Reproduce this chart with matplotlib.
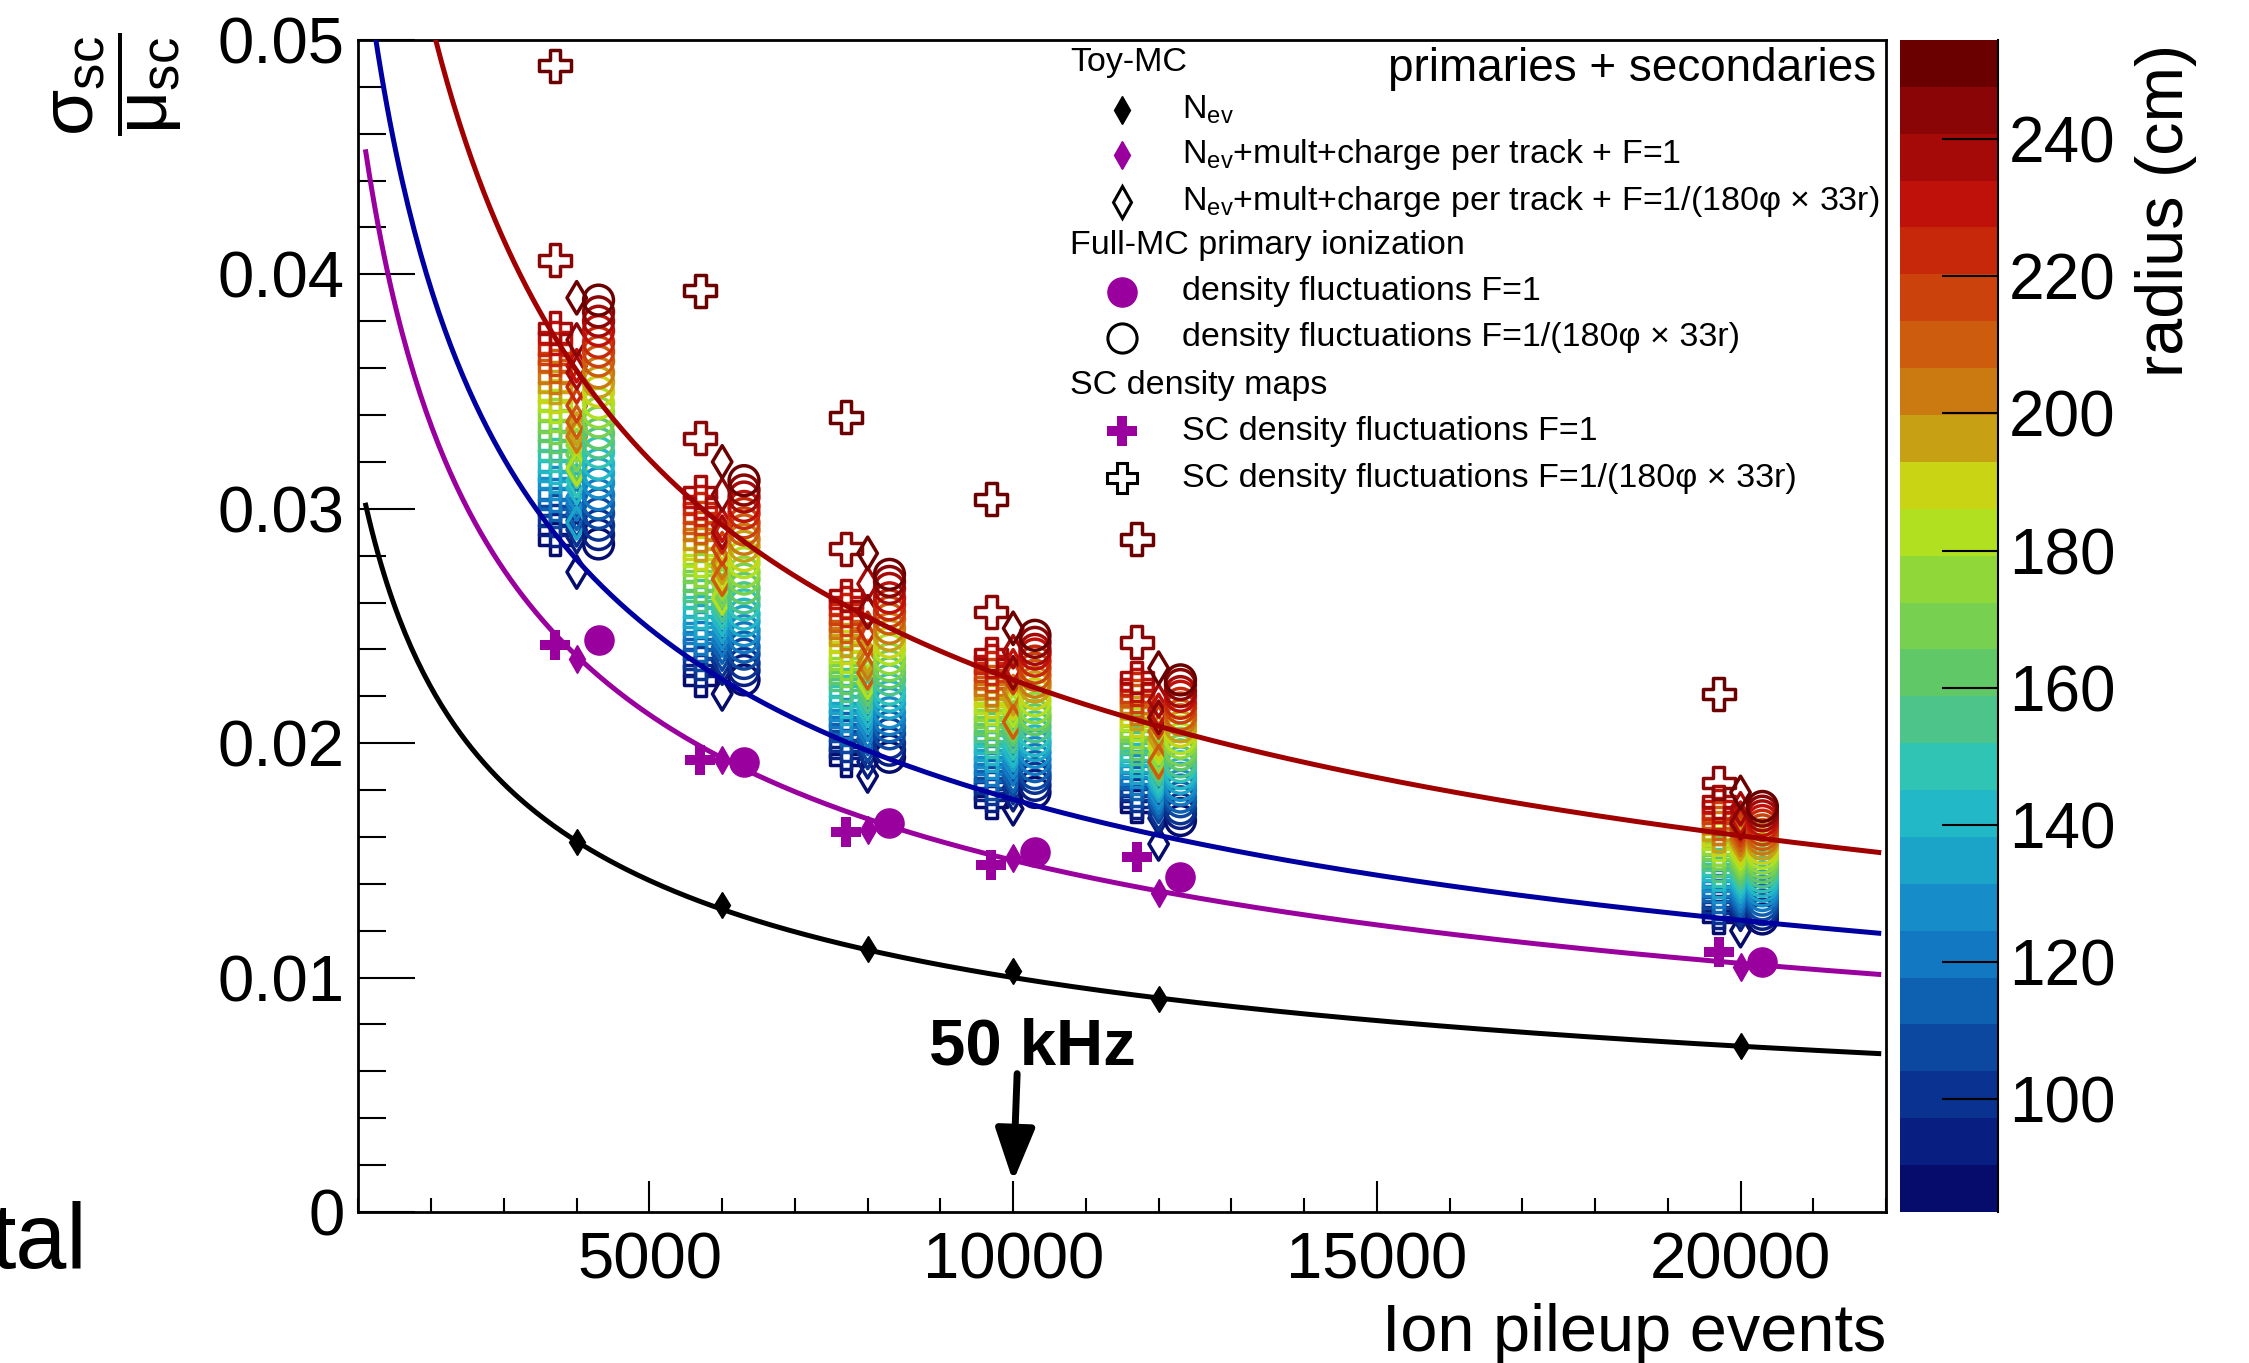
import numpy as np
import matplotlib
matplotlib.use('Agg')
import matplotlib.pyplot as plt
from matplotlib.colors import ListedColormap, Normalize
from matplotlib.cm import ScalarMappable
from matplotlib.ticker import MultipleLocator, FuncFormatter

plt.rcParams['font.family'] = ['Liberation Sans', 'DejaVu Sans']
plt.rcParams['mathtext.fontset'] = 'custom'
plt.rcParams['mathtext.rm'] = 'Liberation Sans'
plt.rcParams['mathtext.it'] = 'Liberation Sans:italic'
plt.rcParams['mathtext.bf'] = 'Liberation Sans:bold'

# ion pileup events of every group of points
n_events = [4000, 6000, 8000, 10000, 12000, 20000]
x_shift = 300  # SC maps drawn left, full-MC drawn right of the toy-MC column

# toy-MC, N_ev only
toy_nev = [0.0158, 0.0131, 0.0112, 0.0103, 0.0091, 0.0071]
# F=1 results (filled magenta)
toy_f1 = [0.0236, 0.0193, 0.0163, 0.0151, 0.0136, 0.01045]
fullmc_f1 = [0.0244, 0.0192, 0.0166, 0.01536, 0.0143, 0.01065]
scmap_f1 = [0.0242, 0.0193, 0.0162, 0.0148, 0.01515, 0.0111]

# fit normalisation p0 of p0/sqrt(N)
fit_nev = 1.0
fit_f1 = 1.5
fit_rphi_lo = 1.76
fit_rphi_hi = 2.27
fit_range = (1100, 21900)

# radial bins (cm) of the F=1/(180phi x 33r) results, inner -> outer
r_min, r_max, n_rbins = 83.5, 254.5, 25

# sigma/mu in units of 1e-4, one row per n_events entry, inner -> outer radius
scmap_rphi = [
    [287, 291, 295, 299, 302, 306, 311, 314, 318, 323, 327, 331, 335, 340, 344, 348, 352, 356, 361, 364, 368, 373, 377, 406, 489],
    [227, 231, 234, 238, 242, 245, 249, 252, 256, 260, 263, 267, 271, 274, 278, 281, 285, 289, 292, 296, 300, 303, 307, 330, 393],
    [193, 196, 199, 203, 206, 209, 212, 215, 218, 222, 225, 228, 231, 234, 237, 241, 244, 247, 250, 253, 257, 260, 263, 283, 339],
    [175, 178, 181, 183, 186, 189, 192, 195, 198, 201, 203, 206, 209, 212, 215, 218, 221, 223, 226, 229, 232, 235, 238, 256, 304],
    [173, 175, 178, 180, 183, 185, 188, 190, 193, 195, 198, 200, 203, 205, 208, 210, 213, 215, 218, 220, 223, 225, 228, 243, 287],
    [126, 128, 130, 132, 135, 137, 139, 141, 144, 146, 148, 150, 153, 155, 157, 159, 161, 164, 166, 168, 170, 173, 175, 183, 221],
]
toy_rphi = [
    [273, 288, 291, 295, 298, 302, 305, 294, 309, 312, 316, 319, 323, 327, 317, 330, 334, 331, 337, 344, 352, 361, 358, 372, 390],
    [221, 232, 235, 238, 241, 244, 247, 250, 253, 256, 259, 262, 265, 268, 262, 272, 275, 277, 270, 283, 288, 293, 290, 306, 320],
    [186, 192, 196, 199, 202, 205, 208, 211, 214, 217, 220, 223, 226, 229, 226, 234, 237, 234, 230, 244, 249, 256, 268, 256, 281],
    [172, 178, 181, 184, 186, 189, 192, 195, 197, 200, 203, 206, 208, 211, 214, 217, 219, 222, 209, 228, 230, 233, 239, 230, 249],
    [157, 168, 170, 173, 175, 177, 179, 182, 184, 186, 189, 191, 193, 195, 198, 200, 202, 205, 192, 209, 211, 214, 218, 211, 232],
    [120, 127, 129, 131, 133, 135, 137, 139, 141, 143, 145, 147, 149, 151, 153, 155, 157, 159, 161, 163, 165, 168, 172, 166, 179],
]
fullmc_rphi = [
    [285, 289, 293, 298, 302, 306, 311, 315, 319, 324, 328, 332, 337, 341, 345, 350, 354, 358, 363, 367, 371, 376, 380, 384, 389],
    [227, 231, 234, 238, 241, 245, 248, 252, 255, 259, 262, 266, 270, 273, 277, 280, 284, 287, 291, 294, 298, 301, 305, 308, 312],
    [194, 197, 200, 204, 207, 210, 213, 217, 220, 223, 227, 230, 233, 236, 240, 243, 246, 249, 253, 256, 259, 262, 266, 269, 272],
    [179, 182, 185, 187, 190, 193, 196, 199, 201, 204, 207, 210, 212, 215, 218, 221, 224, 226, 229, 232, 235, 238, 240, 243, 246],
    [167, 170, 172, 175, 177, 180, 182, 185, 187, 190, 192, 195, 197, 200, 202, 205, 207, 210, 212, 215, 217, 220, 222, 225, 227],
    [125, 127, 129, 131, 133, 135, 137, 139, 141, 143, 145, 147, 149, 151, 153, 155, 157, 159, 161, 163, 165, 167, 169, 171, 173],
]

palette = ['#060c6c', '#081e80', '#0a3290', '#0c48a0', '#0e60b0', '#1278c2', '#168cc8', '#1ca4c8',
           '#22b8c8', '#30c4b4', '#4cc48a', '#60c866', '#78d050', '#90d83a', '#b0e020', '#c8d414',
           '#c8a014', '#ca7a10', '#ce5c0e', '#cc420c', '#c8280a', '#c0100a', '#a50a08', '#8a0505',
           '#6b0000']

c_red, c_blue, c_mag = '#a00000', '#0000a0', '#9a009e'

cmap = ListedColormap(palette)
norm = Normalize(r_min, r_max)
edges = np.linspace(r_min, r_max, n_rbins + 1)
r_centres = 0.5 * (edges[:-1] + edges[1:])
bin_colors = cmap(norm(r_centres))

fig = plt.figure(figsize=(22.49, 13.63), dpi=100)
ax = fig.add_axes([0.1594, 0.1108, 0.6792, 0.8599])
cax = fig.add_axes([0.8448, 0.1108, 0.0436, 0.8599])

# radial-bin columns, open markers
for i, n in enumerate(n_events):
    ax.scatter(np.full(n_rbins, n - x_shift), np.array(scmap_rphi[i]) * 1e-4, s=23 ** 2, marker='P',
               facecolors='none', edgecolors=bin_colors, linewidths=2.5, zorder=2)
for i, n in enumerate(n_events):
    ax.scatter(np.full(n_rbins, n), np.array(toy_rphi[i]) * 1e-4, s=16.5 ** 2, marker='d',
               facecolors='none', edgecolors=bin_colors, linewidths=2.5, zorder=2)
for i, n in enumerate(n_events):
    ax.scatter(np.full(n_rbins, n + x_shift), np.array(fullmc_rphi[i]) * 1e-4, s=21.5 ** 2, marker='o',
               facecolors='none', edgecolors=bin_colors, linewidths=2.5, zorder=2)

# fit curves
xf = np.linspace(fit_range[0], fit_range[1], 500)
for p0, col in [(fit_rphi_hi, c_red), (fit_rphi_lo, c_blue), (fit_f1, c_mag), (fit_nev, 'k')]:
    ax.plot(xf, p0 / np.sqrt(xf), color=col, lw=3.6, zorder=3)

ne = np.array(n_events)
ax.plot(ne, toy_nev, ls='none', marker='d', ms=13, color='k', zorder=4)
ax.plot(ne, toy_f1, ls='none', marker='d', ms=14, color=c_mag, zorder=4)
ax.plot(ne + x_shift, fullmc_f1, ls='none', marker='o', ms=21, color=c_mag, zorder=4)
ax.plot(ne - x_shift, scmap_f1, ls='none', marker='P', ms=21.5, color=c_mag, mew=0, zorder=4)

ax.set_xlim(1000, 22000)
ax.set_ylim(0, 0.05)
ax.xaxis.set_major_locator(MultipleLocator(5000))
ax.xaxis.set_minor_locator(MultipleLocator(1000))
ax.yaxis.set_major_locator(MultipleLocator(0.01))
ax.yaxis.set_minor_locator(MultipleLocator(0.002))
ax.yaxis.set_major_formatter(FuncFormatter(lambda v, p: '0' if abs(v) < 1e-9 else f'{v:.2f}'))
ax.tick_params(which='both', direction='in', top=False, right=False, labelsize=47, width=1.5)
ax.tick_params(axis='y', which='major', length=41, pad=10)
ax.tick_params(axis='y', which='minor', length=20)
ax.tick_params(axis='x', which='major', length=22, pad=14)
ax.tick_params(axis='x', which='minor', length=10)
for sp in ax.spines.values():
    sp.set_linewidth(2)

# 50 kHz marker
ax.text(10270, 0.0063, '50 kHz', fontsize=47, fontweight='bold', ha='center', va='baseline')
ax.annotate('', xy=(10000, 0.0013), xytext=(10055, 0.0059),
            arrowprops=dict(arrowstyle='-|>,head_length=1.6,head_width=0.6', lw=5, color='k',
                            mutation_scale=20, shrinkA=0, shrinkB=0))

ax.text(0.9935, 0.975, 'primaries + secondaries', transform=ax.transAxes, fontsize=33,
        ha='right', va='center')

# legend drawn by hand, ROOT style with group headers
x_head, x_mark, x_text = 0.4658, 0.4998, 0.539
rows = [0.981, 0.940, 0.902, 0.862, 0.825, 0.785, 0.746, 0.705, 0.666, 0.626]
leg_fs = 24.5


def leg_marker(y, **kw):
    ax.plot([x_mark], [y], transform=ax.transAxes, clip_on=False, ls='none', zorder=5, **kw)


def leg_text(x, y, s):
    ax.text(x, y, s, transform=ax.transAxes, fontsize=leg_fs, ha='left', va='center')


leg_text(x_head, rows[0], 'Toy-MC')
leg_marker(rows[1], marker='d', ms=14, color='k')
leg_text(x_text, rows[1], r'N$_{\mathrm{ev}}$')
leg_marker(rows[2], marker='d', ms=14, color=c_mag)
leg_text(x_text, rows[2], r'N$_{\mathrm{ev}}$+mult+charge per track + F=1')
leg_marker(rows[3], marker='d', ms=16, mfc='none', mec='k', mew=2.2)
leg_text(x_text, rows[3], r'N$_{\mathrm{ev}}$+mult+charge per track + F=1/(180φ × 33r)')
leg_text(x_head, rows[4], 'Full-MC primary ionization')
leg_marker(rows[5], marker='o', ms=21, color=c_mag)
leg_text(x_text, rows[5], 'density fluctuations F=1')
leg_marker(rows[6], marker='o', ms=21, mfc='none', mec='k', mew=2.2)
leg_text(x_text, rows[6], 'density fluctuations F=1/(180φ × 33r)')
leg_text(x_head, rows[7], 'SC density maps')
leg_marker(rows[8], marker='P', ms=21.5, color=c_mag, mew=0)
leg_text(x_text, rows[8], 'SC density fluctuations F=1')
leg_marker(rows[9], marker='P', ms=21.5, mfc='none', mec='k', mew=2.2)
leg_text(x_text, rows[9], 'SC density fluctuations F=1/(180φ × 33r)')

# palette axis
sm = ScalarMappable(norm=norm, cmap=cmap)
cb = fig.colorbar(sm, cax=cax, ticks=[100, 120, 140, 160, 180, 200, 220, 240])
cb.outline.set_visible(False)
cax.tick_params(direction='in', length=40, width=1.5, labelsize=46, pad=8)
cax.plot([1, 1], [0, 1], transform=cax.transAxes, color='k', lw=1.5, clip_on=False)
fig.text(0.963, 0.968, 'radius (cm)', rotation=90, fontsize=48, ha='center', va='top')

fig.text(0.8386, 0.0088, 'Ion pileup events', fontsize=48, ha='right', va='baseline')
fig.text(0.0525, 0.938, r'$\dfrac{\mathrm{σ}_{\mathrm{sc}}}{\mathrm{μ}_{\mathrm{sc}}}$',
         rotation=90, fontsize=54, ha='center', va='center')
fig.text(-0.004, 1 - 1268 / 1363, 'tal', fontsize=66, ha='left', va='baseline')

fig.savefig('out.png', dpi=100)
